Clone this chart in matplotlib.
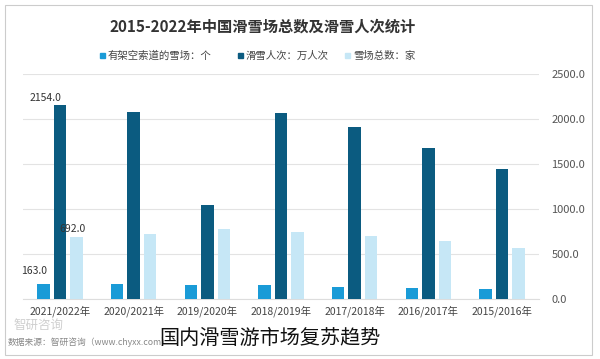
import matplotlib
matplotlib.use('Agg')
import matplotlib.pyplot as plt
import numpy as np
from matplotlib.patches import Rectangle

plt.rcParams['font.family'] = ['Noto Sans CJK SC', 'DejaVu Sans']

# reference is laid out right-to-left: newest season first, axis on the right
seasons = ['2021/2022年', '2020/2021年', '2019/2020年', '2018/2019年',
           '2017/2018年', '2016/2017年', '2015/2016年']
cableway_resorts = [163, 162, 150, 152, 135, 118, 105]      # 有架空索道的雪场：个
skier_visits = [2154, 2076, 1043, 2064, 1908, 1682, 1444]   # 滑雪人次：万人次
resort_total = [692, 715, 770, 742, 703, 646, 568]          # 雪场总数：家

c_mid = '#1a9bd7'
c_dark = '#0b5b80'
c_light = '#c6e7f6'

fig = plt.figure(figsize=(6, 3.59), dpi=100)
fig.patches.append(Rectangle((5 / 600, 4 / 359), 587 / 600, 350 / 359,
                             transform=fig.transFigure, fill=False,
                             edgecolor='#cccccc', linewidth=0.8))

ax = fig.add_axes([23 / 600, 1 - 298.7 / 359, 516 / 600, (298.7 - 74) / 359])
x = np.arange(len(seasons))
w = 0.17
step = 0.224
ax.bar(x - step, cableway_resorts, w, color=c_mid, zorder=3)
ax.bar(x, skier_visits, w, color=c_dark, zorder=3)
ax.bar(x + step, resort_total, w, color=c_light, zorder=3)

ax.set_xlim(-0.5, len(seasons) - 0.5)
ax.set_ylim(0, 2500)
ax.set_yticks(np.arange(0, 2501, 500))
ax.set_yticklabels([f'{v:.1f}' for v in np.arange(0, 2501, 500)])
ax.yaxis.tick_right()
ax.tick_params(axis='y', length=0, pad=9, labelsize=8, labelcolor='#555555')
ax.set_xticks(x)
ax.set_xticklabels(seasons)
ax.tick_params(axis='x', length=0, pad=5, labelsize=7.5, labelcolor='#444444')
ax.grid(axis='y', color='#e3e3e3', linewidth=0.8, zorder=0)
for s in ['top', 'right', 'left']:
    ax.spines[s].set_visible(False)
ax.spines['bottom'].set_color('#dddddd')

# labels on the first group only, as in the reference
ax.text(0 - step - 0.12, cableway_resorts[0] + 110, f'{cableway_resorts[0]:.1f}',
        ha='center', fontsize=7.5, color='#333333', zorder=4)
ax.text(0 - 0.2, skier_visits[0] + 45, f'{skier_visits[0]:.1f}',
        ha='center', fontsize=7.5, color='#333333', zorder=4)
ax.text(0 + step - 0.05, resort_total[0] + 45, f'{resort_total[0]:.1f}',
        ha='center', fontsize=7.5, color='#333333', zorder=4)

fig.text(263 / 600, 1 - 27 / 359, '2015-2022年中国滑雪场总数及滑雪人次统计',
         ha='center', va='center', fontsize=11, fontweight='bold', color='#333333')

# legend row
legend_items = [(c_mid, '有架空索道的雪场：个', 100),
                (c_dark, '滑雪人次：万人次', 238),
                (c_light, '雪场总数：家', 345)]
for col, lab, px in legend_items:
    fig.patches.append(Rectangle((px / 600, 1 - 58 / 359), 5 / 600, 5 / 359,
                                 transform=fig.transFigure, color=col))
    fig.text((px + 8) / 600, 1 - 55.5 / 359, lab, ha='left', va='center',
             fontsize=7.5, color='#444444')

# watermark and source
fig.text(14 / 600, 1 - 325 / 359, '智研咨询', ha='left', va='center',
         fontsize=9, color='#cfcfcf', zorder=0)
fig.text(8 / 600, 1 - 342 / 359, '数据来源：智研咨询（www.chyxx.com）',
         ha='left', va='center', fontsize=6.3, color='#888888')
fig.text(270 / 600, 1 - 338 / 359, '国内滑雪游市场复苏趋势', ha='center', va='center',
         fontsize=14.5, color='#111111')

fig.savefig('out.png', dpi=100)
